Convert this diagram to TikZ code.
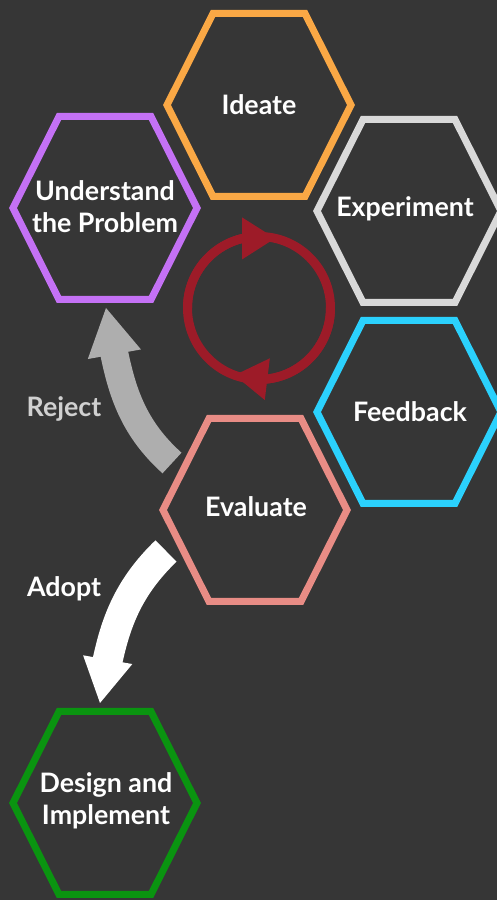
\documentclass[tikz,border=0pt]{standalone}
\usepackage{fontspec}
\setmainfont{Lato}
\usepackage{xcolor}
\usepackage{tikz}
\usetikzlibrary{arrows.meta, bending, positioning}

\definecolor{canvas}{HTML}{363636}
\definecolor{ideateorange}{HTML}{FAA845}
\definecolor{problempurple}{HTML}{C471F5}
\definecolor{experimentgrey}{HTML}{D9D9D9}
\definecolor{feedbackcyan}{HTML}{2BD1FD}
\definecolor{evaluatesalmon}{HTML}{E88C85}
\definecolor{designgreen}{HTML}{0A9410}
\definecolor{ringred}{HTML}{9D1B28}
\definecolor{rejectgrey}{HTML}{AEAEAE}
\definecolor{rejecttext}{HTML}{D0D0D0}

\begin{document}
\begin{tikzpicture}[
    x=1pt, y=1pt,
    cell/.style={text=white, font=\fontsize{26.8}{32}\selectfont\bfseries, align=center},
    hexedge/.style={line width=7pt, line join=miter},
    ringline/.style={ringred, line width=9pt},
    bigarrow/.style={line width=#1}
]

\fill[canvas] (0,0) rectangle (497,900);
\useasboundingbox (0,0) rectangle (497,900);

\node[cell] (ideate) at (259,795) {Ideate};
\node[cell] (problem) at (105,693) {Understand\\the Problem};
\node[cell] (experiment) at (405,691) {Experiment};
\node[cell] (feedback) at (410,488) {Feedback};
\node[cell] (evaluate) at (256,393) {Evaluate};
\node[cell] (design) at (106,99) {Design and\\Implement};

% hexagon outlines around each step
\foreach \hx/\hc/\dx/\dy in {ideate/ideateorange/0/0, problem/problempurple/0/-1, experiment/experimentgrey/4/-2,
                             feedback/feedbackcyan/-1/0, evaluate/evaluatesalmon/-1/-3, design/designgreen/-1/-2}
  \draw[hexedge, \hc] ([shift={(\dx,\dy)}]\hx.center) ++(-92,0) -- ++(46,91.5) -- ++(92,0)
      -- ++(46,-91.5) -- ++(-46,-91.5) -- ++(-92,0) -- cycle;

% iteration ring
\coordinate (hub) at (259,592);
\draw[ringline] (hub) circle[radius=71.5];
\draw[ringline, -{Triangle[length=33pt, width=42pt, line width=0pt]}]
  (hub) ++(180:71.5) arc[start angle=180, end angle=77, radius=71.5];
\draw[ringline, -{Triangle[length=33pt, width=42pt, line width=0pt]}]
  (hub) ++(0:71.5) arc[start angle=0, end angle=-110, radius=71.5];

% reject / adopt
\coordinate (rejectfrom) at ([shift={(-84,44)}]evaluate.center);
\coordinate (rejectto) at ([shift={(1,-101)}]problem.center);
\coordinate (adoptfrom) at ([shift={(-90,-44)}]evaluate.center);
\coordinate (adoptto) at ([shift={(-6,98)}]design.center);

\draw[bigarrow=28pt, rejectgrey, -{Triangle[length=47pt, width=54pt, line width=0pt]}]
  (rejectfrom) to[out=138, in=-80] (rejectto);
\draw[bigarrow=30pt, white, -{Triangle[length=44pt, width=50pt, line width=0pt]}]
  (adoptfrom) to[out=224, in=81] (adoptto);

\node[cell, text=rejecttext] (reject) at (64,491) {Reject};
\node[cell] (adopt) at (64,311) {Adopt};

\end{tikzpicture}
\end{document}
